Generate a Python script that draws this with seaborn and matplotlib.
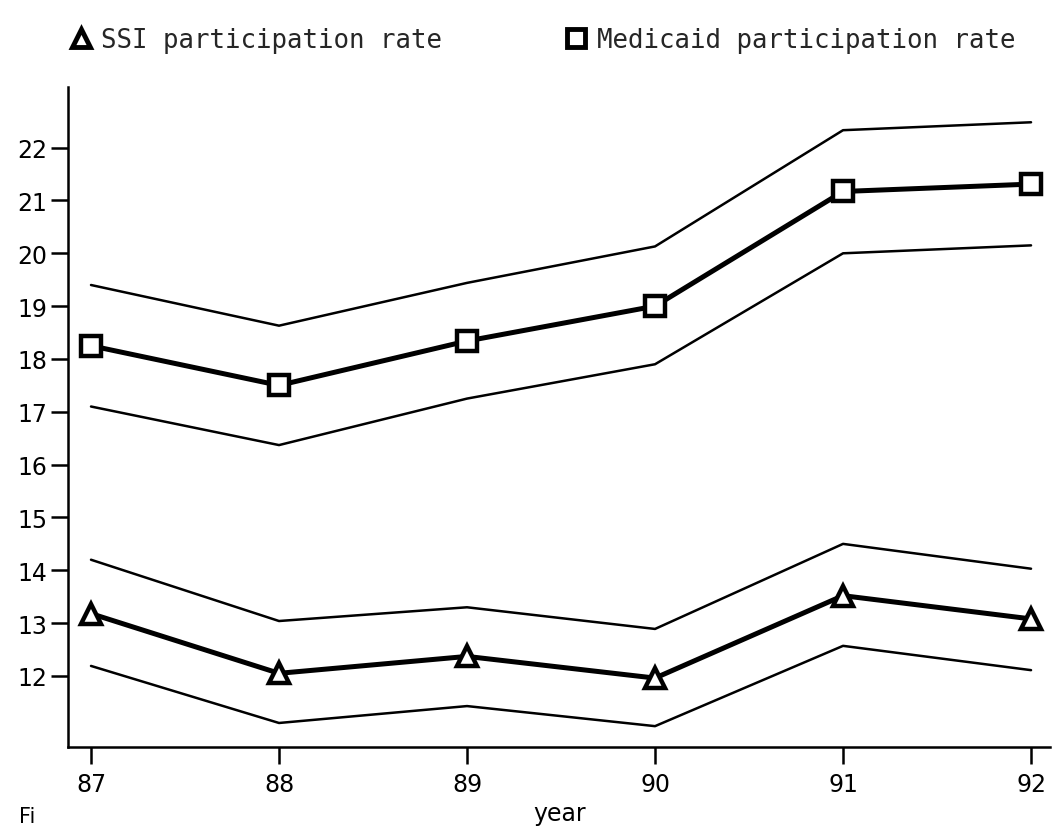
import matplotlib
matplotlib.use("Agg")
import matplotlib.pyplot as plt
from matplotlib.lines import Line2D
import seaborn as sns
import pandas as pd

# Participation rates by year, with the upper and lower bounds drawn around each series
years = [87, 88, 89, 90, 91, 92]

ssi_rate = [13.18, 12.05, 12.37, 11.96, 13.52, 13.08]
ssi_upper = [14.20, 13.04, 13.30, 12.89, 14.50, 14.03]
ssi_lower = [12.19, 11.11, 11.43, 11.05, 12.57, 12.11]

medicaid_rate = [18.25, 17.50, 18.34, 19.00, 21.17, 21.31]
medicaid_upper = [19.40, 18.63, 19.44, 20.13, 22.33, 22.48]
medicaid_lower = [17.10, 16.37, 17.25, 17.90, 20.00, 20.15]

y_ticks = [12, 13, 14, 15, 16, 17, 18, 19, 20, 21, 22]
x_ticks = [87, 88, 89, 90, 91, 92]

sns.set_theme(style="white")
plt.rcParams["font.family"] = ["DejaVu Sans"]

fig = plt.figure(figsize=(10.53, 8.29), dpi=100)
ax = fig.add_axes([0.065, 0.098, 0.932, 0.796])

df = pd.DataFrame({
    "year": years,
    "ssi": ssi_rate, "ssi_hi": ssi_upper, "ssi_lo": ssi_lower,
    "med": medicaid_rate, "med_hi": medicaid_upper, "med_lo": medicaid_lower,
})

thin = dict(color="black", lw=1.8, ax=ax, legend=False)
for col in ["ssi_hi", "ssi_lo", "med_hi", "med_lo"]:
    sns.lineplot(data=df, x="year", y=col, **thin)

sns.lineplot(data=df, x="year", y="ssi", color="black", lw=3.6, ax=ax,
             marker="^", markersize=15, markerfacecolor="white",
             markeredgecolor="black", markeredgewidth=3.2, legend=False)
sns.lineplot(data=df, x="year", y="med", color="black", lw=3.6, ax=ax,
             marker="s", markersize=15, markerfacecolor="white",
             markeredgecolor="black", markeredgewidth=3.2, legend=False)

ax.set_xlim(86.88, 92.1)
ax.set_ylim(10.66, 23.15)
ax.set_xticks(x_ticks)
ax.set_xticklabels([str(v) for v in x_ticks])
ax.set_yticks(y_ticks)
ax.set_yticklabels([str(v) for v in y_ticks])
ax.tick_params(axis="both", which="major", direction="out", length=12, width=1.8,
               labelsize=17, colors="black", pad=3, bottom=True, left=True)
ax.tick_params(axis="x", pad=6)
ax.set_xlabel("year", fontsize=17, color="black", labelpad=4)
ax.set_ylabel("")
for side in ["top", "right"]:
    ax.spines[side].set_visible(False)
for side in ["left", "bottom"]:
    ax.spines[side].set_color("black")
    ax.spines[side].set_linewidth(1.8)

handles = [
    Line2D([], [], ls="none", marker="^", markersize=13, markerfacecolor="white",
           markeredgecolor="black", markeredgewidth=3.5),
    Line2D([], [], ls="none", marker="s", markersize=13, markerfacecolor="white",
           markeredgecolor="black", markeredgewidth=3.5),
]
fig.legend(handles, ["SSI participation rate", "Medicaid participation rate"],
           loc="center left", bbox_to_anchor=(0.045, 0.951), ncol=2, frameon=False,
           prop={"family": "DejaVu Sans Mono", "size": 18.5},
           handlelength=0.8, handletextpad=0.4, columnspacing=4.8)

fig.text(0.018, 0.003, "Fi", fontsize=15, color="black", va="bottom")

fig.savefig("out.png", dpi=100, facecolor="white")
